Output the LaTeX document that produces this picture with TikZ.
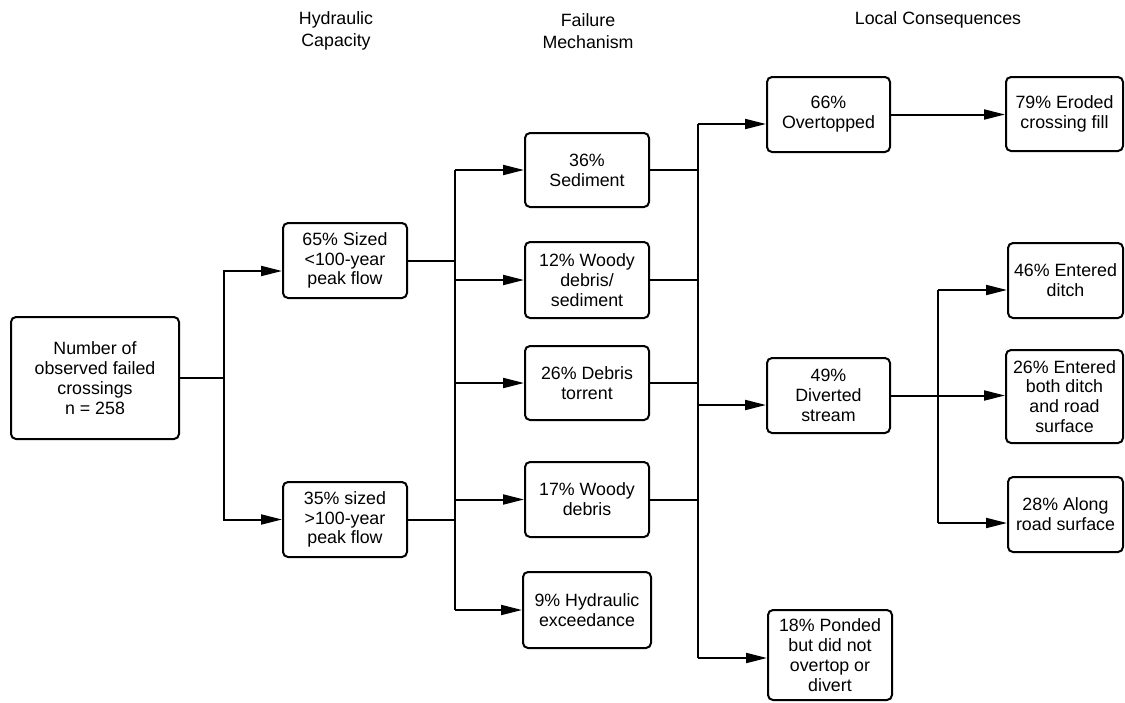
\documentclass[tikz,border=0pt]{standalone}
\usepackage{fontspec}
\setmainfont{Liberation Sans}
\usetikzlibrary{arrows.meta}
\tikzset{
  line/.style={line width=2pt, line join=miter},
  arr/.style={line, -{Triangle[length=21pt,width=10pt]}},
  box/.style={draw, line width=2pt, rounded corners=5pt, align=center, inner sep=0pt,
    font=\fontsize{17.8pt}{19.8pt}\selectfont},
  head/.style={align=center, font=\fontsize{17.8pt}{22.5pt}\selectfont},
}
\begin{document}
\begin{tikzpicture}[x=1pt,y=-1pt]
\useasboundingbox (0,0) rectangle (1125,702);
% headings
\node[head] (h1) at (336,31) {Hydraulic\\Capacity};
\node[head] (h2) at (588,31) {Failure\\Mechanism};
\node[head] (h3) at (938,20) {Local Consequences};
% boxes
\node[box, minimum width=168pt, minimum height=122pt] (root) at (95,378) {Number of\\observed failed\\crossings\\n = 258};
\node[box, minimum width=124pt, minimum height=75pt] (n65) at (345,260.5) {65\% Sized\\<100-year\\peak flow};
\node[box, minimum width=124pt, minimum height=75pt] (n35) at (345,519.5) {35\% sized\\>100-year\\peak flow};
\node[box, minimum width=124pt, minimum height=74pt] (n36) at (587,170) {36\%\\Sediment};
\node[box, minimum width=124pt, minimum height=76pt] (n12) at (587,280) {12\% Woody\\debris/\\sediment};
\node[box, minimum width=124pt, minimum height=74pt] (n26) at (587,383) {26\% Debris\\torrent};
\node[box, minimum width=124pt, minimum height=75pt] (n17) at (587,499.5) {17\% Woody\\debris};
\node[box, minimum width=128pt, minimum height=76pt] (n09) at (587,610) {9\% Hydraulic\\exceedance};
\node[box, minimum width=123pt, minimum height=75pt] (over) at (828.5,114.5) {66\%\\Overtopped};
\node[box, minimum width=123pt, minimum height=75pt] (div) at (828.5,395.5) {49\%\\Diverted\\stream};
\node[box, minimum width=124pt, minimum height=90pt] (pond) at (830,655) {18\% Ponded\\but did not\\overtop or\\divert};
\node[box, minimum width=117pt, minimum height=74pt] (n79) at (1064.5,114) {79\% Eroded\\crossing fill};
\node[box, minimum width=115pt, minimum height=75pt] (n46) at (1065.5,280.5) {46\% Entered\\ditch};
\node[box, minimum width=117pt, minimum height=93pt] (n26b) at (1064.5,396.5) {26\% Entered\\both ditch\\and road\\surface};
\node[box, minimum width=115pt, minimum height=75pt] (n28) at (1065.5,514.5) {28\% Along\\road surface};
% junction coordinates
\coordinate (j1) at (224,378);
\coordinate (b2top) at (455,170);
\coordinate (b2bot) at (455,610);
\coordinate (b3top) at (698,124);
\coordinate (b3bot) at (698,658);
\coordinate (b4top) at (938,290);
\coordinate (b4bot) at (938,523);
% level 1
\draw[line] (root.east) -- (j1);
\draw[arr] (j1) |- ([yshift=-10.5pt]n65.west);
\draw[arr] (j1) |- (n35.west);
% level 2
\draw[line] (n65.east) -- (n65.east -| b2top);
\draw[line] (n35.east) -- (n35.east -| b2top);
\draw[line] (b2top) -- (b2bot);
\draw[arr] (n36.west -| b2top) -- (n36.west);
\draw[arr] (n12.west -| b2top) -- (n12.west);
\draw[arr] (n26.west -| b2top) -- (n26.west);
\draw[arr] (n17.west -| b2top) -- (n17.west);
\draw[arr] (n09.west -| b2top) -- (n09.west);
% level 3
\draw[line] (n36.east) -- (n36.east -| b3top);
\draw[line] (n12.east) -- (n12.east -| b3top);
\draw[line] (n26.east) -- (n26.east -| b3top);
\draw[line] (n17.east) -- (n17.east -| b3top);
\draw[line] (b3top) -- (b3bot);
\draw[arr] (b3top) -- ([yshift=-9.5pt]over.west);
\draw[arr] ([yshift=-9.5pt]div.west -| b3top) -- ([yshift=-9.5pt]div.west);
\draw[arr] (b3bot) -- ([yshift=-3pt]pond.west);
% level 4
\draw[arr] (over.east) -- (over.east -| n79.west);
\draw[line] (div.east) -- (div.east -| b4top);
\draw[line] (b4top) -- (b4bot);
\draw[arr] (b4top) -- ([yshift=-9.5pt]n46.west);
\draw[arr] (div.east -| b4top) -- (div.east -| n26b.west);
\draw[arr] (b4bot) -- ([yshift=-8.5pt]n28.west);
\end{tikzpicture}
\end{document}
